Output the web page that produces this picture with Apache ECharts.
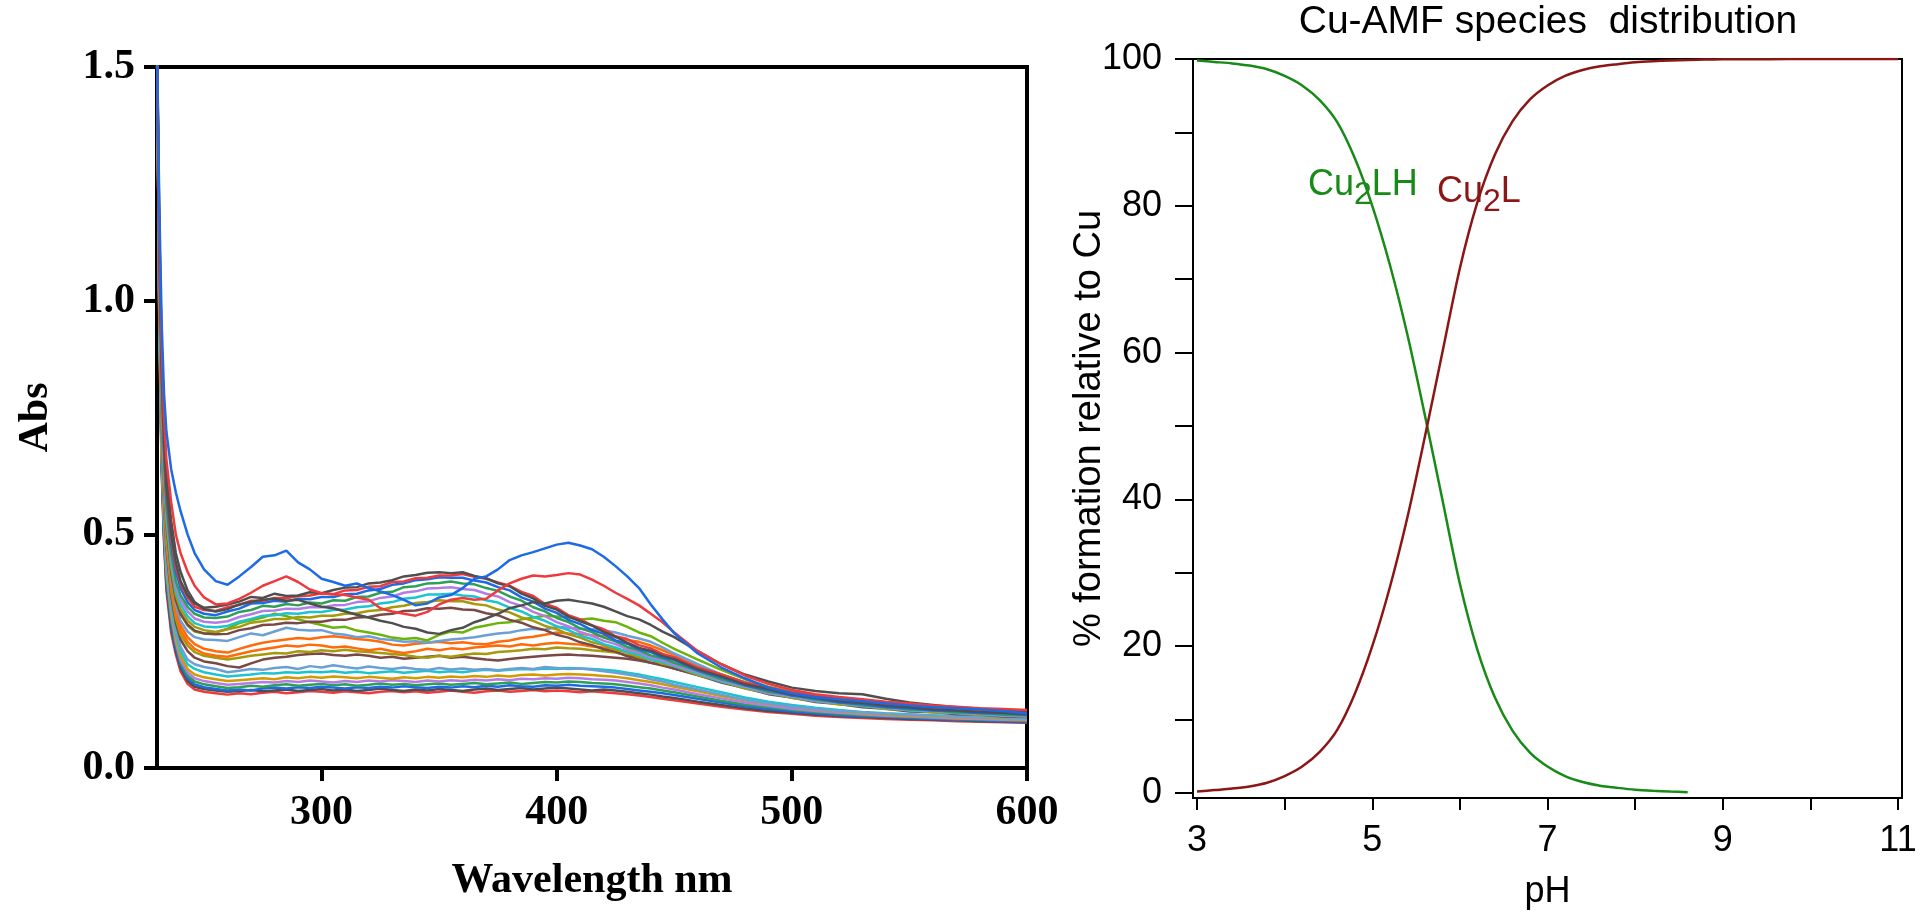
<!DOCTYPE html>
<html>
<head>
<meta charset="utf-8">
<title>Cu-AMF spectra and species distribution</title>
<script src="https://cdn.jsdelivr.net/npm/echarts@6/dist/echarts.min.js"></script>
<style>
  html, body { margin: 0; padding: 0; background: #fff; }
  #chart { width: 1920px; height: 916px; }
</style>
</head>
<body>
<div id="chart"></div>
<script>
// ---- left panel: UV-vis spectra (Abs vs wavelength) ----
const wavelength = [230,231,232,233,234,236,238,240,243,246,250,
  255,260,265,270,275,280,285,290,295,
  300,305,310,315,320,325,330,335,340,345,
  350,355,360,365,370,375,380,385,390,395,
  400,405,410,415,420,425,430,435,440,445,
  450,460,470,480,490,500,510,520,530,540,
  550,560,570,580,590,600];

// band at 400 nm (early spectra)
const specA1 = [1.55,1.2,0.95,0.8,0.72,0.64,0.59,0.55,0.5,0.46,0.425,
  0.4,0.392,0.41,0.43,0.452,0.455,0.465,0.44,0.425,
  0.405,0.398,0.39,0.395,0.385,0.378,0.37,0.36,0.348,0.352,
  0.365,0.37,0.385,0.405,0.41,0.425,0.445,0.455,0.462,0.47,
  0.478,0.482,0.476,0.468,0.452,0.432,0.41,0.385,0.35,0.318,
  0.288,0.245,0.215,0.192,0.172,0.16,0.152,0.147,0.143,0.138,
  0.134,0.13,0.128,0.125,0.122,0.117];
const specA2 = [1.55,1.15,0.9,0.75,0.66,0.57,0.5,0.46,0.42,0.39,0.365,
  0.35,0.352,0.362,0.375,0.39,0.4,0.41,0.398,0.382,
  0.374,0.372,0.37,0.365,0.36,0.342,0.335,0.33,0.326,0.334,
  0.35,0.36,0.364,0.36,0.362,0.38,0.395,0.405,0.412,0.41,
  0.413,0.417,0.414,0.403,0.39,0.375,0.362,0.348,0.33,0.312,
  0.29,0.25,0.222,0.198,0.18,0.167,0.158,0.152,0.147,0.142,
  0.138,0.134,0.131,0.128,0.126,0.124];
const specA3 = [1.55,1.15,0.88,0.73,0.63,0.53,0.46,0.42,0.38,0.355,0.34,
  0.335,0.34,0.35,0.355,0.36,0.362,0.358,0.36,0.352,
  0.345,0.342,0.335,0.328,0.322,0.315,0.31,0.302,0.298,0.29,
  0.287,0.295,0.3,0.312,0.32,0.33,0.342,0.348,0.355,0.352,
  0.358,0.36,0.356,0.352,0.345,0.335,0.325,0.318,0.306,0.292,
  0.28,0.25,0.222,0.2,0.185,0.172,0.165,0.16,0.158,0.148,
  0.14,0.135,0.13,0.127,0.124,0.121];
const specA4 = [1.55,1.05,0.78,0.62,0.52,0.42,0.36,0.33,0.305,0.292,0.288,
  0.29,0.298,0.31,0.316,0.322,0.33,0.325,0.318,0.312,
  0.306,0.3,0.302,0.294,0.29,0.285,0.279,0.276,0.278,0.273,
  0.285,0.292,0.29,0.3,0.305,0.31,0.312,0.318,0.322,0.326,
  0.324,0.322,0.318,0.32,0.315,0.312,0.302,0.29,0.282,0.268,
  0.255,0.232,0.21,0.19,0.174,0.163,0.154,0.147,0.142,0.137,
  0.133,0.129,0.126,0.123,0.121,0.119];
const specA5 = [1.55,1.04,0.77,0.61,0.51,0.41,0.35,0.315,0.292,0.28,0.275,
  0.274,0.272,0.28,0.288,0.284,0.292,0.3,0.296,0.294,
  0.295,0.288,0.285,0.28,0.282,0.276,0.274,0.27,0.271,0.268,
  0.272,0.275,0.277,0.28,0.284,0.288,0.29,0.295,0.298,0.296,
  0.302,0.3,0.298,0.297,0.295,0.29,0.283,0.277,0.27,0.258,
  0.245,0.222,0.2,0.183,0.17,0.16,0.152,0.146,0.142,0.138,
  0.134,0.131,0.128,0.126,0.124,0.122];
const specA6 = [1.55,1.03,0.76,0.6,0.5,0.4,0.34,0.305,0.28,0.265,0.255,
  0.25,0.247,0.255,0.262,0.268,0.272,0.275,0.278,0.276,
  0.28,0.282,0.279,0.276,0.274,0.27,0.264,0.262,0.266,0.268,
  0.27,0.267,0.269,0.266,0.265,0.27,0.273,0.278,0.281,0.285,
  0.29,0.288,0.287,0.284,0.282,0.28,0.274,0.27,0.262,0.252,
  0.242,0.22,0.2,0.183,0.17,0.16,0.152,0.146,0.141,0.137,
  0.133,0.13,0.127,0.125,0.123,0.121];
const specA7 = [1.55,1.02,0.75,0.59,0.49,0.39,0.33,0.295,0.27,0.255,0.245,
  0.24,0.238,0.244,0.25,0.254,0.258,0.262,0.26,0.264,
  0.262,0.258,0.26,0.256,0.252,0.255,0.25,0.246,0.25,0.255,
  0.252,0.256,0.254,0.258,0.26,0.262,0.26,0.265,0.262,0.266,
  0.268,0.266,0.264,0.26,0.258,0.255,0.25,0.245,0.238,0.23,
  0.222,0.205,0.19,0.176,0.165,0.156,0.148,0.142,0.137,0.133,
  0.129,0.126,0.123,0.121,0.119,0.117];
const specA8 = [1.55,1.02,0.74,0.58,0.48,0.38,0.32,0.285,0.262,0.248,0.24,
  0.236,0.232,0.236,0.24,0.243,0.246,0.245,0.25,0.248,
  0.252,0.25,0.253,0.25,0.248,0.246,0.244,0.242,0.238,0.236,
  0.24,0.238,0.242,0.245,0.244,0.248,0.25,0.252,0.255,0.254,
  0.258,0.256,0.255,0.252,0.25,0.247,0.242,0.237,0.232,0.225,
  0.218,0.203,0.189,0.176,0.165,0.155,0.147,0.141,0.136,0.132,
  0.128,0.125,0.122,0.12,0.118,0.116];
const specA9 = [1.55,1.01,0.73,0.57,0.47,0.37,0.31,0.275,0.25,0.236,0.228,
  0.224,0.218,0.215,0.224,0.232,0.236,0.238,0.242,0.244,
  0.245,0.242,0.24,0.243,0.24,0.236,0.238,0.234,0.236,0.238,
  0.24,0.236,0.238,0.235,0.232,0.23,0.233,0.236,0.238,0.24,
  0.242,0.243,0.241,0.24,0.238,0.236,0.234,0.23,0.225,0.219,
  0.213,0.199,0.186,0.174,0.164,0.155,0.147,0.141,0.136,0.132,
  0.128,0.125,0.122,0.12,0.118,0.116];

// band at 350 nm
const specB1 = [1.55,1.12,0.86,0.7,0.6,0.5,0.44,0.4,0.37,0.352,0.343,
  0.345,0.35,0.356,0.366,0.364,0.373,0.368,0.369,0.376,
  0.374,0.381,0.386,0.387,0.395,0.397,0.402,0.41,0.413,0.418,
  0.419,0.417,0.419,0.411,0.406,0.395,0.389,0.373,0.363,0.347,
  0.339,0.324,0.314,0.305,0.291,0.281,0.268,0.257,0.251,0.24,
  0.233,0.211,0.196,0.179,0.169,0.157,0.151,0.143,0.139,0.133,
  0.13,0.125,0.123,0.12,0.118,0.115];
const specB2 = [1.55,1.1,0.85,0.69,0.59,0.49,0.43,0.395,0.365,0.345,0.338,
  0.336,0.344,0.349,0.358,0.358,0.364,0.363,0.368,0.369,
  0.374,0.372,0.38,0.381,0.388,0.389,0.398,0.399,0.406,0.407,
  0.412,0.412,0.415,0.409,0.405,0.397,0.39,0.377,0.368,0.351,
  0.343,0.327,0.318,0.305,0.297,0.282,0.276,0.263,0.256,0.244,
  0.237,0.215,0.2,0.183,0.173,0.161,0.155,0.146,0.142,0.135,
  0.133,0.127,0.126,0.121,0.121,0.118];
const specB3 = [1.55,1.1,0.84,0.68,0.58,0.48,0.42,0.385,0.355,0.338,0.33,
  0.327,0.335,0.341,0.352,0.353,0.358,0.356,0.362,0.361,
  0.366,0.366,0.372,0.373,0.38,0.383,0.392,0.395,0.402,0.404,
  0.408,0.407,0.407,0.401,0.397,0.387,0.38,0.365,0.356,0.341,
  0.332,0.317,0.308,0.295,0.287,0.273,0.266,0.254,0.248,0.237,
  0.231,0.209,0.194,0.177,0.167,0.155,0.149,0.14,0.137,0.13,
  0.128,0.123,0.122,0.117,0.117,0.114];
const specB4 = [1.55,1.08,0.82,0.66,0.56,0.46,0.4,0.37,0.345,0.33,0.322,
  0.321,0.324,0.334,0.338,0.347,0.345,0.351,0.348,0.354,
  0.352,0.359,0.358,0.366,0.367,0.375,0.377,0.387,0.389,0.395,
  0.396,0.399,0.395,0.393,0.385,0.379,0.367,0.358,0.344,0.335,
  0.321,0.312,0.299,0.291,0.279,0.271,0.259,0.252,0.241,0.235,
  0.225,0.208,0.19,0.177,0.163,0.156,0.146,0.141,0.134,0.131,
  0.125,0.124,0.119,0.118,0.114,0.113];
const specB5 = [1.55,1.07,0.81,0.65,0.55,0.45,0.39,0.36,0.335,0.32,0.313,
  0.311,0.314,0.323,0.329,0.336,0.337,0.341,0.34,0.344,
  0.344,0.348,0.349,0.355,0.357,0.364,0.367,0.375,0.378,0.384,
  0.385,0.387,0.383,0.381,0.373,0.367,0.355,0.347,0.334,0.325,
  0.312,0.303,0.291,0.283,0.272,0.265,0.254,0.247,0.237,0.231,
  0.221,0.205,0.187,0.175,0.161,0.154,0.144,0.14,0.133,0.13,
  0.124,0.123,0.118,0.117,0.113,0.112];
const specB6 = [1.55,1.06,0.8,0.64,0.54,0.44,0.38,0.35,0.325,0.31,0.303,
  0.301,0.304,0.313,0.319,0.326,0.327,0.331,0.33,0.334,
  0.334,0.338,0.339,0.344,0.346,0.352,0.355,0.362,0.365,0.371,
  0.371,0.373,0.369,0.367,0.359,0.354,0.343,0.335,0.323,0.315,
  0.303,0.295,0.283,0.276,0.265,0.258,0.248,0.242,0.232,0.227,
  0.218,0.202,0.185,0.173,0.16,0.153,0.143,0.139,0.132,0.129,
  0.123,0.122,0.117,0.116,0.112,0.111];
const specB7 = [1.55,1.05,0.79,0.63,0.53,0.43,0.37,0.34,0.316,0.302,0.295,
  0.291,0.297,0.302,0.311,0.314,0.319,0.319,0.323,0.322,
  0.326,0.326,0.33,0.331,0.336,0.338,0.344,0.347,0.353,0.355,
  0.359,0.357,0.357,0.351,0.348,0.339,0.333,0.322,0.315,0.304,
  0.297,0.286,0.279,0.269,0.263,0.253,0.247,0.237,0.232,0.223,
  0.218,0.199,0.186,0.17,0.161,0.15,0.144,0.136,0.133,0.126,
  0.124,0.119,0.118,0.113,0.113,0.11];
const specB8 = [1.55,1.04,0.78,0.62,0.52,0.42,0.36,0.33,0.307,0.294,0.288,
  0.286,0.287,0.295,0.299,0.306,0.307,0.311,0.31,0.313,
  0.313,0.317,0.317,0.322,0.323,0.328,0.33,0.336,0.337,0.342,
  0.341,0.343,0.339,0.338,0.331,0.327,0.317,0.311,0.301,0.295,
  0.285,0.279,0.269,0.263,0.254,0.249,0.239,0.234,0.225,0.221,
  0.213,0.199,0.183,0.171,0.158,0.151,0.141,0.137,0.13,0.127,
  0.121,0.12,0.115,0.114,0.11,0.109];

// flat, late spectra
const specC1 = [1.55,0.98,0.7,0.55,0.45,0.36,0.3,0.26,0.232,0.222,0.216,
  0.212,0.205,0.208,0.212,0.21,0.214,0.216,0.212,0.218,
  0.215,0.22,0.216,0.213,0.217,0.214,0.212,0.215,0.212,0.21,
  0.214,0.211,0.213,0.21,0.212,0.209,0.212,0.214,0.212,0.216,
  0.214,0.212,0.213,0.21,0.207,0.204,0.2,0.196,0.19,0.185,
  0.178,0.168,0.157,0.146,0.138,0.131,0.126,0.122,0.119,0.116,
  0.114,0.112,0.11,0.108,0.107,0.105];
const specC2 = [1.55,0.97,0.69,0.54,0.44,0.35,0.29,0.25,0.222,0.212,0.205,
  0.2,0.196,0.198,0.2,0.203,0.202,0.205,0.204,0.206,
  0.205,0.207,0.204,0.206,0.203,0.205,0.207,0.204,0.206,0.208,
  0.205,0.207,0.205,0.208,0.21,0.208,0.21,0.212,0.211,0.213,
  0.212,0.214,0.213,0.212,0.21,0.208,0.204,0.2,0.195,0.19,
  0.184,0.173,0.162,0.151,0.142,0.135,0.129,0.124,0.12,0.117,
  0.115,0.113,0.111,0.109,0.108,0.106];
const specC3 = [1.55,0.96,0.68,0.53,0.43,0.34,0.28,0.24,0.212,0.2,0.194,
  0.19,0.186,0.188,0.19,0.192,0.19,0.194,0.192,0.195,
  0.193,0.196,0.194,0.192,0.195,0.193,0.191,0.194,0.192,0.195,
  0.193,0.196,0.194,0.197,0.195,0.198,0.196,0.199,0.2,0.198,
  0.2,0.201,0.2,0.199,0.197,0.195,0.192,0.188,0.184,0.179,
  0.174,0.164,0.154,0.145,0.137,0.131,0.125,0.121,0.117,0.114,
  0.112,0.11,0.108,0.107,0.105,0.104];
const specC4 = [1.55,0.95,0.67,0.52,0.42,0.33,0.27,0.232,0.205,0.192,0.186,
  0.182,0.178,0.18,0.182,0.184,0.183,0.186,0.184,0.187,
  0.185,0.183,0.186,0.184,0.187,0.185,0.188,0.186,0.184,0.187,
  0.185,0.188,0.186,0.189,0.187,0.19,0.188,0.191,0.19,0.192,
  0.191,0.193,0.192,0.19,0.189,0.187,0.184,0.181,0.177,0.172,
  0.168,0.158,0.149,0.14,0.133,0.127,0.122,0.118,0.115,0.112,
  0.11,0.108,0.106,0.105,0.103,0.102];
const specC5 = [1.55,0.95,0.66,0.51,0.41,0.32,0.265,0.226,0.198,0.185,0.179,
  0.175,0.171,0.173,0.176,0.174,0.177,0.179,0.176,0.178,
  0.18,0.177,0.179,0.176,0.178,0.181,0.178,0.18,0.177,0.179,
  0.181,0.178,0.18,0.182,0.179,0.181,0.183,0.18,0.182,0.184,
  0.183,0.185,0.184,0.182,0.181,0.179,0.176,0.173,0.17,0.166,
  0.162,0.153,0.144,0.136,0.13,0.124,0.12,0.116,0.113,0.111,
  0.109,0.107,0.105,0.104,0.102,0.101];
const specC6 = [1.55,0.94,0.65,0.5,0.4,0.31,0.258,0.22,0.192,0.179,0.173,
  0.169,0.166,0.168,0.166,0.17,0.172,0.17,0.173,0.171,
  0.174,0.172,0.17,0.173,0.171,0.174,0.172,0.175,0.173,0.171,
  0.174,0.172,0.175,0.173,0.176,0.174,0.177,0.175,0.174,0.177,
  0.176,0.178,0.176,0.175,0.174,0.172,0.169,0.166,0.163,0.16,
  0.156,0.148,0.14,0.132,0.126,0.121,0.117,0.113,0.111,0.109,
  0.107,0.105,0.103,0.102,0.1,0.099];
const specC7 = [1.55,0.93,0.64,0.49,0.39,0.3,0.25,0.214,0.186,0.174,0.169,
  0.166,0.163,0.165,0.167,0.164,0.166,0.168,0.165,0.167,
  0.169,0.166,0.168,0.165,0.167,0.17,0.167,0.165,0.168,0.166,
  0.169,0.167,0.165,0.168,0.17,0.167,0.169,0.171,0.168,0.17,
  0.172,0.17,0.168,0.166,0.168,0.166,0.163,0.16,0.157,0.153,
  0.15,0.142,0.135,0.128,0.122,0.118,0.114,0.111,0.109,0.107,
  0.105,0.103,0.102,0.1,0.099,0.098];
const specC8 = [1.55,0.92,0.63,0.48,0.38,0.29,0.243,0.207,0.18,0.168,0.163,
  0.16,0.157,0.16,0.158,0.161,0.163,0.16,0.162,0.165,
  0.163,0.161,0.164,0.162,0.16,0.163,0.165,0.162,0.164,0.161,
  0.163,0.166,0.163,0.161,0.164,0.166,0.163,0.165,0.167,0.164,
  0.166,0.164,0.162,0.164,0.162,0.16,0.158,0.155,0.152,0.148,
  0.145,0.138,0.131,0.125,0.12,0.116,0.112,0.109,0.107,0.105,
  0.103,0.102,0.1,0.099,0.098,0.097];

// draw order: flat ones first, 400 nm band last (on top)
const spectra = [specC8, specC7, specC6, specC5, specC4, specC3, specC2, specC1,
  specA9, specA8, specA7, specA6, specA5, specA4,
  specB8, specB7, specB6, specB5, specB4, specB3, specB2, specB1,
  specA3, specA2, specA1];
const spectraColors = ['#f0393c', '#4f4f4f', '#1d6ae5', '#2e9f55', '#b47de6', '#d29b00', '#1cc4cf', '#6c9fd6',
  '#7b4848', '#a49a0c', '#ff6a0a', '#ff6a0a', '#6c9fd6', '#6ab40a',
  '#7b4848', '#a49a0c', '#1cc4cf', '#b47de6', '#2e9f55', '#1d6ae5', '#f0393c', '#4f4f4f',
  '#4f4f4f', '#f0393c', '#1d6ae5'];

const wlTicks = [300, 400, 500, 600];
const absTicks = [0, 0.5, 1.0, 1.5];

// ---- right panel: species distribution ----
const phCu2LH = [3.0,3.2,3.4,3.6,3.8,4.0,4.2,4.4,4.6,4.8,5.0,5.2,5.4,5.6,5.8,
  6.0,6.2,6.4,6.6,6.8,7.0,7.2,7.4,7.6,7.8,8.0,8.2,8.4,8.6];
const cu2LH = [99.8,99.6,99.4,99.1,98.6,97.7,96.4,94.4,91.4,86.5,80.0,72.0,62.5,51.5,40.0,
  28.5,19.5,13.0,8.5,5.5,3.6,2.3,1.5,1.0,0.7,0.45,0.3,0.2,0.12];
const phCu2L = [3.0,3.2,3.4,3.6,3.8,4.0,4.2,4.4,4.6,4.8,5.0,5.2,5.4,5.6,5.8,
  6.0,6.2,6.4,6.6,6.8,7.0,7.2,7.4,7.6,7.8,8.0,8.2,8.4,8.6,8.8,
  9.0,9.5,10.0,10.5,11.0];
const cu2L = [0.2,0.4,0.6,0.9,1.4,2.3,3.6,5.6,8.6,13.5,20.0,28.0,37.5,48.5,60.0,
  71.5,80.5,87.0,91.5,94.5,96.4,97.7,98.5,99.0,99.3,99.55,99.7,99.8,99.88,99.92,
  99.95,99.98,100,100,100];

const phTicks = [3, 4, 5, 6, 7, 8, 9, 10, 11];
const phLabels = [3, 5, 7, 9, 11];
const pctTicks = [0, 10, 20, 30, 40, 50, 60, 70, 80, 90, 100];
const pctLabels = [0, 20, 40, 60, 80, 100];

const serif = '"Liberation Serif", "Times New Roman", serif';
const sans = '"Liberation Sans", Arial, sans-serif';
const greenC = '#178a17';
const redC = '#8b1616';

let chart = echarts.init(document.getElementById('chart'));

const seriesList = [];
spectra.forEach(function (s, i) {
    seriesList.push({
        type: 'line',
        xAxisIndex: 0,
        yAxisIndex: 0,
        data: wavelength.map((w, j) => [w, s[j]]),
        showSymbol: false,
        symbol: 'none',
        silent: true,
        clip: true,
        lineStyle: { width: 2.5, color: spectraColors[i] },
        itemStyle: { color: spectraColors[i] }
    });
});
seriesList.push({
    type: 'line', xAxisIndex: 1, yAxisIndex: 1,
    data: phCu2LH.map((p, i) => [p, cu2LH[i]]),
    smooth: 0.3, showSymbol: false, symbol: 'none', silent: true,
    lineStyle: { width: 2.5, color: greenC }, itemStyle: { color: greenC }
});
seriesList.push({
    type: 'line', xAxisIndex: 1, yAxisIndex: 1,
    data: phCu2L.map((p, i) => [p, cu2L[i]]),
    smooth: 0.3, showSymbol: false, symbol: 'none', silent: true,
    lineStyle: { width: 2.5, color: redC }, itemStyle: { color: redC }
});

const option = {
    animation: false,
    backgroundColor: '#fff',
    grid: [
        { left: 157, top: 67, width: 870, height: 701, show: true, borderColor: '#000', borderWidth: 4,
          backgroundColor: 'transparent', containLabel: false, outerBoundsMode: 'none' },
        { left: 1193, top: 59, width: 709, height: 739, show: true, borderColor: '#000', borderWidth: 2,
          backgroundColor: 'transparent', containLabel: false, outerBoundsMode: 'none' }
    ],
    xAxis: [
        {
            gridIndex: 0, type: 'value', min: 230, max: 600,
            axisLine: { show: true, onZero: false, lineStyle: { color: '#000', width: 4 } },
            axisTick: { show: true, customValues: wlTicks, length: 13, lineStyle: { color: '#000', width: 4 } },
            axisLabel: { customValues: wlTicks, margin: 24, color: '#000',
                fontFamily: serif, fontWeight: 'bold', fontSize: 42 },
            splitLine: { show: false },
            name: 'Wavelength nm', nameLocation: 'middle', nameGap: 92, nameMoveOverlap: false,
            nameTextStyle: { color: '#000', fontFamily: serif, fontWeight: 'bold', fontSize: 42 }
        },
        {
            gridIndex: 1, type: 'value', min: 2.954, max: 11.046,
            axisLine: { show: true, onZero: false, lineStyle: { color: '#000', width: 2 } },
            axisTick: { show: true, customValues: phTicks, length: 12, lineStyle: { color: '#000', width: 2 } },
            axisLabel: { customValues: phLabels, margin: 25, color: '#000',
                fontFamily: sans, fontSize: 36 },
            splitLine: { show: false },
            name: 'pH', nameLocation: 'middle', nameGap: 76, nameMoveOverlap: false,
            nameTextStyle: { color: '#000', fontFamily: sans, fontSize: 36 }
        }
    ],
    yAxis: [
        {
            gridIndex: 0, type: 'value', min: 0, max: 1.5, interval: 0.5,
            axisLine: { show: true, onZero: false, lineStyle: { color: '#000', width: 4 } },
            axisTick: { show: true, customValues: absTicks, length: 13, lineStyle: { color: '#000', width: 4 } },
            axisLabel: { customValues: absTicks, margin: 22, color: '#000',
                fontFamily: serif, fontWeight: 'bold', fontSize: 42,
                formatter: v => v.toFixed(1) },
            splitLine: { show: false },
            name: 'Abs', nameLocation: 'middle', nameGap: 100, nameMoveOverlap: false,
            nameTextStyle: { color: '#000', fontFamily: serif, fontWeight: 'bold', fontSize: 42 }
        },
        {
            gridIndex: 1, type: 'value', min: -0.68, max: 100,
            axisLine: { show: true, onZero: false, lineStyle: { color: '#000', width: 2 } },
            axisTick: { show: true, customValues: pctTicks, length: 18, lineStyle: { color: '#000', width: 2 } },
            axisLabel: { customValues: pctLabels, margin: 31, color: '#000',
                fontFamily: sans, fontSize: 36 },
            splitLine: { show: false },
            name: '% formation relative to Cu', nameLocation: 'middle', nameGap: 84, nameMoveOverlap: false,
            nameTextStyle: { color: '#000', fontFamily: sans, fontSize: 38 }
        }
    ],
    graphic: [
        {
            type: 'text', x: 1548, y: 3, silent: true,
            style: { text: 'Cu-AMF species  distribution', font: '39px ' + sans, fill: '#000',
                align: 'center', textAlign: 'center', verticalAlign: 'top' }
        },
        {
            type: 'text', x: 1308, y: 159, silent: true,
            style: {
                text: '{a|Cu}{s|2}{a|LH}', fill: greenC, font: '36px ' + sans,
                rich: {
                    a: { fontSize: 36, fontFamily: sans, fill: greenC, color: greenC },
                    s: { fontSize: 32, fontFamily: sans, fill: greenC, color: greenC, padding: [20, 0, 0, 0] }
                }
            }
        },
        {
            type: 'text', x: 1437, y: 166, silent: true,
            style: {
                text: '{a|Cu}{s|2}{a|L}', fill: redC, font: '36px ' + sans,
                rich: {
                    a: { fontSize: 36, fontFamily: sans, fill: redC, color: redC },
                    s: { fontSize: 32, fontFamily: sans, fill: redC, color: redC, padding: [20, 0, 0, 0] }
                }
            }
        }
    ],
    series: seriesList
};
chart.setOption(option);
</script>
</body>
</html>
